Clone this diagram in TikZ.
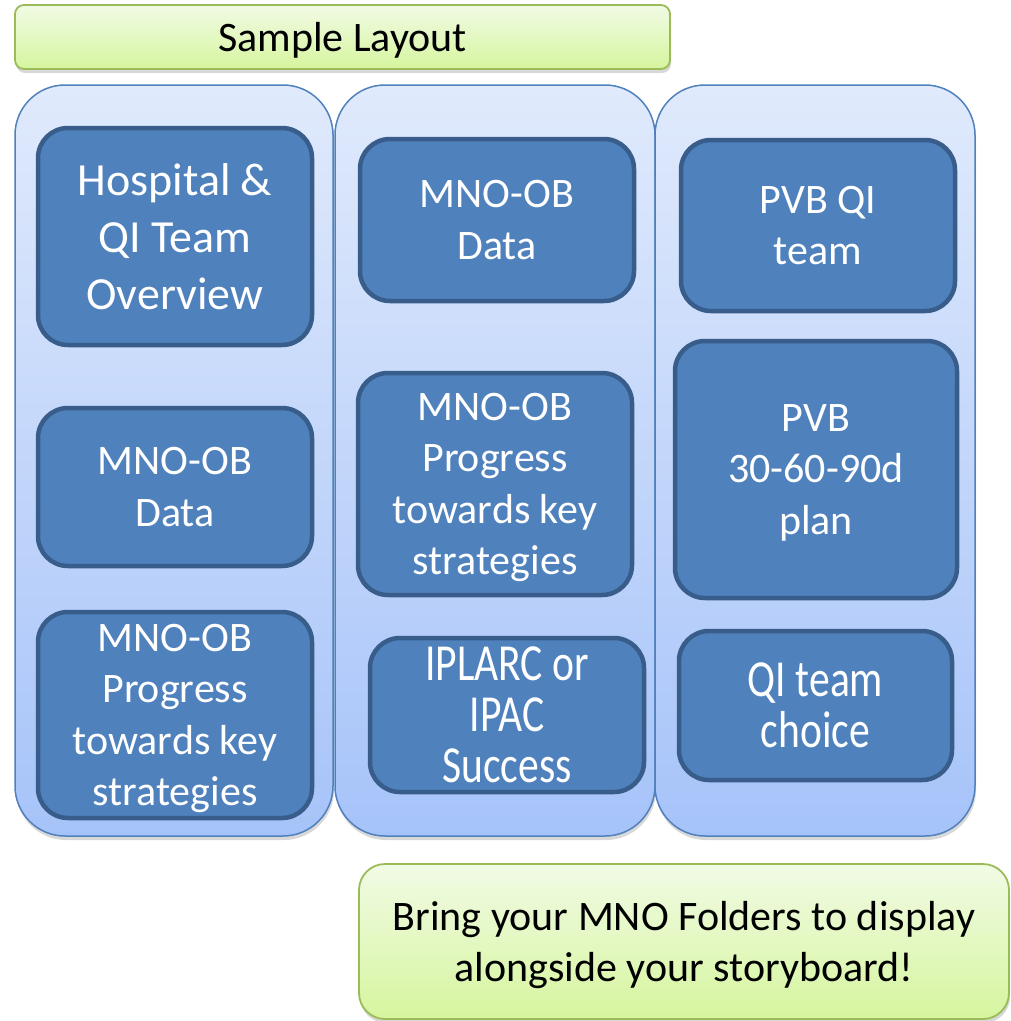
\documentclass[tikz,border=0pt]{standalone}
\usepackage{fontspec}
\setmainfont{Carlito}
\newfontfamily\condfont[FakeStretch=0.8]{Carlito}
\usetikzlibrary{shadows}
\definecolor{colTop}{HTML}{E0EAFC}
\definecolor{colBot}{HTML}{A6C3F9}
\definecolor{colLine}{HTML}{4F81BD}
\definecolor{boxFill}{HTML}{4F81BD}
\definecolor{boxLine}{HTML}{385D8A}
\definecolor{grTop}{HTML}{F1FBE5}
\definecolor{grBot}{HTML}{D6F59E}
\definecolor{grLine}{HTML}{9BBB59}
\tikzset{
  column/.style={draw=colLine, line width=1.5pt, top color=colTop, bottom color=colBot,
    rounded corners=50pt, minimum width=318pt, minimum height=751pt, inner sep=0pt,
    drop shadow={opacity=0.3, shadow xshift=1pt, shadow yshift=-4pt}},
  greenbox/.style={draw=grLine, line width=1.8pt, top color=grTop, bottom color=grBot,
    inner sep=0pt, align=center, text=black, text depth=0pt,
    font=\fontsize{42}{51.3}\selectfont,
    drop shadow={opacity=0.3, shadow xshift=1pt, shadow yshift=-4pt}},
  item/.style={draw=boxLine, line width=4.5pt, fill=boxFill, rounded corners=30pt,
    inner sep=0pt, align=center, text=white, minimum width=274pt, text depth=0pt,
    font=\fontsize{42}{51.5}\selectfont},
  bigitem/.style={item, font=\fontsize{46}{57}\selectfont},
  conditem/.style={item, font=\condfont\fontsize{52}{51}\selectfont}
}
\begin{document}
\begin{tikzpicture}[x=1pt,y=-1pt]
\useasboundingbox[fill=white] (0,0) rectangle (1011,1021);
% title
\node[greenbox, rounded corners=9pt, minimum width=655pt, minimum height=64pt] (title) at (342.5,37) {Sample Layout};
% columns
\node[column] (col1) at (174,460.5) {};
\node[column, minimum width=320pt] (col2) at (495,460.5) {};
\node[column, minimum width=320pt] (col3) at (815,460.5) {};
% column 1
\node[bigitem, minimum height=217pt] (a1) at (175,236.5) {Hospital \&\\QI Team\\Overview};
\node[item, minimum height=158pt] (a2) at (175,487) {MNO-OB\\Data};
\node[item, minimum height=206pt] (a3) at (175,715) {MNO-OB\\Progress\\towards key\\strategies};
% column 2
\node[item, minimum height=162pt] (b1) at (497,220) {MNO-OB\\Data};
\node[item, minimum height=222pt] (b2) at (495,484) {MNO-OB\\Progress\\towards key\\strategies};
\node[conditem, minimum height=154pt] (b3) at (507,715) {IPLARC or\\IPAC\\Success};
% column 3
\node[item, minimum height=171pt] (c1) at (818,225.5) {PVB QI\\team};
\node[item, minimum width=282pt, minimum height=257pt] (c2) at (816,469.5) {PVB\\30-60-90d\\plan};
\node[conditem, minimum width=273pt, minimum height=149pt] (c3) at (815.5,705.5) {QI team\\choice};
% note
\node[greenbox, rounded corners=26pt, minimum width=650pt, minimum height=155pt] (note) at (684,941.5) {Bring your MNO Folders to display\\alongside your storyboard!};
\end{tikzpicture}
\end{document}
